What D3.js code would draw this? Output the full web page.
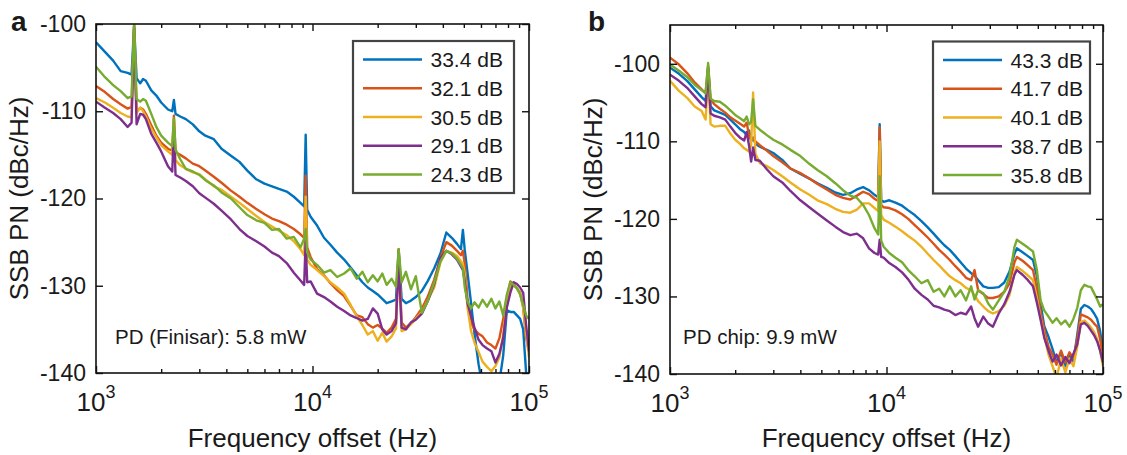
<!DOCTYPE html>
<html>
<head>
<meta charset="utf-8">
<script src="https://cdn.jsdelivr.net/npm/d3@7"></script>
<style>
  body { margin: 0; background: #fff; }
  text { font-family: Arial, "Liberation Sans", Helvetica, sans-serif; fill: #1a1a1a; }
</style>
</head>
<body>
<svg id="chart" width="1127" height="455"></svg>
<script>
// ---- panel a: PD (Finisar) ----
const freqA = [1000, 1100, 1200, 1300, 1400, 1460, 1500, 1540, 1600, 1650,
  1700, 1800, 1900, 2000, 2150, 2250, 2290, 2330, 2450, 2600,
  2800, 3000, 3200, 3500, 3800, 4200, 4600, 5000, 5500, 6000,
  6500, 7000, 7600, 8200, 8800, 9150, 9300, 9450, 9800, 10500,
  11300, 12100, 13000, 14000, 15000, 16000, 17000, 18000, 19000, 20000,
  21000, 22000, 23200, 24300, 25000, 25800, 27000, 28500, 30000, 32000,
  34000, 36500, 39000, 41500, 44000, 46500, 48500, 49500, 50500, 52000,
  54000, 56000, 58500, 61000, 64000, 67000, 70000, 73000, 76000, 79000,
  82000, 85000, 88000, 91000, 94000, 97000, 100000];

const a334 = [-102.1, -103.2, -104.2, -105.4, -105.6, -105.8, -100.2, -106.2, -106.8, -106.3,
  -106.5, -107.6, -108.2, -109.0, -109.8, -110.0, -108.7, -110.3, -110.6, -110.9,
  -111.5, -112.3, -112.8, -113.2, -114.3, -115.1, -115.8, -116.8, -117.8, -118.3,
  -118.6, -118.9, -119.2, -119.8, -120.5, -120.9, -112.7, -121.3, -122.1, -123.1,
  -124.5, -125.3, -126.2, -127.0, -127.9, -128.8, -129.6, -130.2, -130.6, -131.0,
  -131.5, -132.0, -131.8, -131.6, -125.9, -131.5, -132.0, -131.7, -131.3, -130.6,
  -129.5, -128.0, -126.3, -123.9, -124.5, -125.2, -125.8, -123.6, -125.9, -128.5,
  -132.0, -135.5, -139.0, -141.5, -142, -142, -142, -141, -138, -132.8,
  -133.0, -133.0, -133.4, -133.8, -135, -140, -142];

const a321 = [-107.1, -107.8, -108.6, -109.2, -109.7, -109.5, -100.2, -110.0, -109.6, -109.8,
  -110.3, -111.6, -112.8, -113.6, -114.3, -114.5, -110.5, -114.7, -115.0, -115.4,
  -116.0, -116.3, -116.8, -117.5, -118.2, -119.1, -119.8, -120.5, -121.2, -121.8,
  -122.3, -122.6, -123.0, -123.5, -124.1, -124.5, -117.4, -125.6, -126.7, -128.1,
  -128.8, -129.7, -130.5, -131.2, -132.3, -133.4, -133.6, -134.4, -134.8, -134.5,
  -134.9, -135.4, -134.8, -133.8, -125.8, -134.2, -134.8, -134.3, -133.6, -132.6,
  -131.3, -129.3, -126.8, -125.0, -125.4, -126.0, -126.5, -126.0, -127.5, -131.5,
  -134.2, -135.0, -135.5, -135.8, -136.5, -136.8, -137.2, -136.0, -133.8, -131.5,
  -129.5, -129.8, -130.3, -130.8, -132.5, -136.0, -137.5];

const a305 = [-108.5, -109.0, -109.6, -110.2, -110.6, -110.7, -100.2, -110.2, -109.6, -110.0,
  -110.6, -112.0, -113.0, -113.9, -114.6, -115.0, -111.0, -115.6, -116.2, -116.6,
  -117.0, -117.2, -117.8, -118.6, -119.0, -119.8, -120.5, -121.2, -122.0, -122.7,
  -123.2, -123.7, -124.2, -124.9, -125.8, -126.5, -119.8, -127.0, -127.6, -128.2,
  -128.9, -129.6, -130.2, -130.9, -132.2, -133.5, -134.5, -135.6, -135.2, -136.3,
  -135.4, -136.4, -135.8, -134.9, -126.4, -135.2, -135.0, -134.4, -133.8, -133.0,
  -131.7, -130.2, -127.3, -126.0, -126.2, -126.6, -127.2, -127.5, -128.6, -132.5,
  -135.2, -136.5, -137.6, -138.7, -139.3, -139.8, -139.2, -138.2, -135.6, -132.0,
  -129.8, -130.0, -130.3, -130.9, -132.5, -135.5, -138.2];

const a291 = [-108.9, -109.6, -110.2, -110.9, -111.8, -111.3, -100.5, -111.5, -110.3, -110.4,
  -110.9, -112.6, -113.6, -114.6, -116.3, -116.9, -112.0, -117.3, -117.6, -118.0,
  -118.6, -119.4, -119.9, -120.6, -121.4, -122.4, -123.5, -124.3, -124.9, -125.5,
  -126.2, -126.6, -127.4, -128.5, -129.4, -129.9, -124.8, -129.6, -129.5, -130.9,
  -131.3, -131.8, -132.4, -132.9, -133.4, -133.7, -134.0, -133.8, -132.6, -133.2,
  -135.0, -135.6, -135.2, -134.3, -127.2, -134.8, -135.0, -134.2, -133.9, -133.2,
  -131.8, -129.8, -126.8, -126.0, -126.4, -127.0, -127.8, -128.2, -129.5, -132.0,
  -133.5, -134.8, -136.2, -136.8, -137.2, -137.5, -138.8, -137.8, -136.0, -132.5,
  -130.8, -129.6, -129.8, -130.2, -130.8, -134.5, -137.5];

const a243 = [-104.9, -106.1, -107.0, -107.7, -108.5, -108.3, -100.0, -108.6, -108.9, -108.6,
  -108.8, -110.3, -111.8, -112.8, -113.6, -114.0, -110.8, -114.4, -115.5, -116.6,
  -116.9, -117.3, -117.9, -118.5, -119.3, -120.0, -121.0, -121.9, -122.5, -122.8,
  -123.6, -123.5, -124.6, -124.4, -125.6, -124.6, -123.5, -126.2, -127.0, -127.6,
  -128.5, -128.2, -129.0, -128.6, -128.0, -129.2, -128.4, -129.6, -128.8, -129.5,
  -128.6, -129.9, -129.2, -130.1, -125.8, -129.6, -128.4, -130.4, -128.9, -133.1,
  -131.8, -129.6, -127.2, -126.0, -126.3, -126.9, -127.6, -128.0, -130.2, -131.8,
  -132.6, -131.9, -132.5, -131.6, -132.4, -131.5, -132.6, -131.8, -133.4, -131.0,
  -129.6, -129.9, -130.3, -131.0, -132.2, -133.4, -133.8];

const labelsA = ["33.4 dB", "32.1 dB", "30.5 dB", "29.1 dB", "24.3 dB"];

// ---- panel b: PD chip ----
const freqB = [1000, 1100, 1200, 1300, 1400, 1460, 1500, 1540, 1600, 1700,
  1800, 1900, 2000, 2100, 2200, 2260, 2320, 2370, 2420, 2480,
  2600, 2800, 3000, 3300, 3600, 4000, 4400, 4800, 5300, 5800,
  6300, 6800, 7300, 7800, 8300, 8800, 9150, 9300, 9450, 9700,
  10300, 11000, 11800, 12600, 13500, 14500, 15500, 16500, 17500, 18500,
  19600, 20800, 22000, 23300, 24600, 25500, 26500, 28000, 29500, 31000,
  33000, 35000, 37000, 39000, 40000, 42500, 45000, 47500, 49500, 51500,
  53500, 56000, 58500, 61000, 64000, 67000, 70000, 73000, 76000, 79000,
  82000, 85000, 88000, 91000, 94000, 97000, 100000];

const b433 = [-100.5, -101.3, -102.2, -103.3, -104.3, -104.8, -100.5, -105.5, -106.0, -106.3,
  -106.6, -107.2, -107.8, -108.4, -108.8, -109.2, -108.6, -110.0, -109.5, -110.3,
  -110.7, -111.1, -111.5, -112.4, -113.5, -114.2, -114.8, -115.4, -116.0, -116.6,
  -116.9, -116.7, -116.2, -115.9, -116.3, -116.9, -117.2, -107.8, -117.6, -117.8,
  -117.6, -117.9, -118.3, -118.9, -119.5, -120.3, -121.1, -121.9, -122.7, -123.4,
  -124.0, -124.8, -125.6, -126.4, -127.0, -127.3, -127.9, -128.7, -128.9, -128.9,
  -128.8, -128.2, -126.8, -124.5, -123.8, -124.3, -124.8, -125.3, -127.4, -131.0,
  -133.8, -135.2, -136.8, -138.5, -137.2, -139.0, -137.6, -138.4, -135.0, -131.6,
  -131.1, -131.3, -131.6, -132.2, -132.9, -134.5, -137.0];

const b417 = [-99.2, -100.1, -101.2, -102.4, -103.3, -103.8, -100.3, -104.6, -105.2, -105.8,
  -106.3, -106.9, -107.3, -107.7, -108.1, -107.6, -109.3, -109.8, -109.6, -110.0,
  -110.5, -111.2, -111.9, -112.7, -113.5, -114.1, -114.8, -115.5, -116.2, -116.9,
  -117.3, -117.5, -117.0, -116.5, -116.8, -117.4, -117.7, -108.2, -118.2, -118.5,
  -118.6, -118.9, -119.4, -120.0, -120.8, -121.6, -122.4, -123.2, -124.0, -124.6,
  -125.3, -126.1, -126.8, -127.6, -127.9, -126.6, -129.2, -129.7, -130.2, -130.2,
  -130.0, -129.4, -128.3, -125.6, -124.9, -125.4, -126.0, -126.6, -129.0, -132.0,
  -134.2, -136.5, -137.5, -138.8, -137.0, -138.5, -137.2, -138.0, -135.5, -132.3,
  -132.5, -132.7, -133.0, -133.5, -133.9, -135.5, -138.0];

const b401 = [-102.2, -103.5, -104.4, -105.5, -106.1, -107.2, -101.8, -107.8, -108.1, -108.0,
  -108.0, -109.0, -109.8, -110.3, -110.9, -111.1, -111.3, -110.5, -103.7, -111.6,
  -112.8, -113.2, -113.7, -114.5, -115.3, -116.2, -116.9, -117.6, -118.1, -118.7,
  -119.1, -119.2, -118.8, -118.0, -118.0, -118.6, -119.0, -110.0, -119.5, -120.1,
  -120.5, -121.0, -121.6, -122.2, -122.8, -123.6, -124.5, -125.3, -126.0, -126.7,
  -127.4, -127.9, -128.3, -128.9, -129.2, -129.8, -130.6, -131.3, -131.9, -132.2,
  -131.9, -131.2, -129.8, -127.0, -126.2, -126.7, -127.3, -127.9, -130.2, -132.8,
  -135.0, -137.5, -139.0, -140.5, -138.0, -139.8, -138.0, -139.0, -136.5, -133.3,
  -133.1, -133.5, -134.0, -134.6, -135.5, -137.0, -139.0];

const b387 = [-101.4, -102.2, -103.1, -104.2, -105.2, -105.6, -100.8, -106.4, -106.7, -106.9,
  -107.2, -108.1, -108.9, -109.5, -109.9, -108.8, -110.6, -112.6, -110.8, -112.4,
  -112.5, -113.6, -114.5, -115.3, -116.4, -117.6, -118.5, -119.3, -120.2, -121.0,
  -121.7, -122.1, -121.9, -122.5, -123.8, -124.4, -124.6, -122.7, -124.9, -125.0,
  -125.7, -126.2, -126.9, -127.8, -129.0, -129.8, -130.4, -131.2, -131.4, -131.7,
  -131.9, -132.4, -132.1, -132.3, -131.3, -132.8, -133.9, -132.6, -133.5, -133.9,
  -132.2, -131.0, -129.4, -127.2, -126.6, -127.2, -127.9, -128.7, -130.8, -133.0,
  -135.3, -137.0, -138.4, -137.5, -138.9, -137.8, -138.6, -137.4, -136.2, -133.6,
  -133.4, -133.8, -134.4, -135.0, -135.8, -137.0, -138.5];

const b358 = [-100.1, -100.9, -101.7, -102.7, -103.4, -103.8, -99.9, -104.5, -104.8, -104.9,
  -105.4, -106.0, -106.6, -107.0, -107.4, -106.8, -107.8, -107.5, -104.6, -108.0,
  -108.5, -109.2, -109.8, -110.4, -111.1, -111.9, -112.9, -113.7, -114.5, -115.4,
  -116.3, -117.0, -117.3, -118.2, -119.5, -121.2, -122.0, -114.5, -122.8, -123.6,
  -124.4, -125.0, -125.6, -126.6, -127.4, -128.3, -127.9, -129.4, -129.0, -130.0,
  -128.7, -130.0, -129.2, -130.5, -128.7, -130.4, -129.2, -129.6, -130.9, -131.7,
  -130.5, -129.4, -127.4, -123.6, -122.7, -123.2, -123.7, -124.2, -126.6, -130.5,
  -131.8, -132.6, -133.4, -132.8, -133.6, -133.1, -133.9, -132.9, -131.5, -129.2,
  -128.5, -128.7, -128.8, -129.6, -130.4, -131.3, -131.0];

const labelsB = ["43.3 dB", "41.7 dB", "40.1 dB", "38.7 dB", "35.8 dB"];

const colors = ["#0072BD", "#D95319", "#EDB120", "#7E2F8E", "#77AC30"];
const yTicks = [-140, -130, -120, -110, -100];
const xMajor = [1e3, 1e4, 1e5];
const xMinor = [2e3, 3e3, 4e3, 5e3, 6e3, 7e3, 8e3, 9e3, 2e4, 3e4, 4e4, 5e4, 6e4, 7e4, 8e4, 9e4];

const svg = d3.select("#chart");
const FONT = 'Arial, "Liberation Sans", Helvetica, sans-serif';

function drawPanel(p) {
    const x = d3.scaleLog().domain([1e3, 1e5]).range([p.left, p.right]);
    const y = d3.scaleLinear().domain(p.yDomain).range([p.bottom, p.top]);
    const g = svg.append("g");

    g.append("clipPath").attr("id", "clip-" + p.letter)
        .append("rect")
        .attr("x", p.left).attr("y", p.top)
        .attr("width", p.right - p.left).attr("height", p.bottom - p.top);

    const line = d3.line().x(d => x(d[0])).y(d => y(d[1]));
    g.append("g").attr("clip-path", `url(#clip-${p.letter})`)
        .selectAll("path")
        .data(p.series)
        .join("path")
        .attr("d", s => line(p.freq.map((f, i) => [f, s[i]])))
        .attr("fill", "none")
        .attr("stroke", (s, i) => colors[i])
        .attr("stroke-width", 2.4)
        .attr("stroke-linejoin", "round");

    // ticks (all pointing inward)
    const axes = [
        [d3.axisBottom(x).tickValues(xMajor).tickSize(-7), `translate(0,${p.bottom})`],
        [d3.axisBottom(x).tickValues(xMinor).tickSize(-4), `translate(0,${p.bottom})`],
        [d3.axisTop(x).tickValues(xMajor).tickSize(-7), `translate(0,${p.top})`],
        [d3.axisTop(x).tickValues(xMinor).tickSize(-4), `translate(0,${p.top})`],
        [d3.axisRight(y).tickValues(yTicks).tickSize(-7), `translate(${p.right},0)`]
    ];
    axes.forEach(([ax, tr]) => {
        const a = g.append("g").attr("transform", tr).call(ax.tickFormat(""));
        a.select(".domain").remove();
        a.selectAll("line").attr("stroke", "#111").attr("stroke-width", 1.4);
    });

    const yAxis = g.append("g")
        .attr("transform", `translate(${p.left},0)`)
        .call(d3.axisLeft(y).tickValues(yTicks).tickSize(-7).tickPadding(10).tickFormat(d => String(d)));
    yAxis.select(".domain").remove();
    yAxis.selectAll("line").attr("stroke", "#111").attr("stroke-width", 1.4);
    yAxis.selectAll("text").attr("font-size", 23).attr("font-family", FONT).style("fill", "#1a1a1a");

    // x tick labels as 10^n
    xMajor.forEach(v => {
        const t = g.append("text")
            .attr("x", x(v)).attr("y", p.bottom + 38)
            .attr("text-anchor", "middle")
            .attr("font-size", 26);
        t.append("tspan").text("10");
        t.append("tspan").attr("dy", -13).attr("font-size", 18).text(Math.round(Math.log10(v)));
    });

    // frame
    g.append("rect")
        .attr("x", p.left).attr("y", p.top)
        .attr("width", p.right - p.left).attr("height", p.bottom - p.top)
        .attr("fill", "none").attr("stroke", "#111").attr("stroke-width", 1.6);

    // legend
    const lg = g.append("g");
    lg.append("rect")
        .attr("x", p.legend.x).attr("y", p.legend.y)
        .attr("width", p.legend.w).attr("height", p.legend.h)
        .attr("fill", "#fff").attr("stroke", "#444").attr("stroke-width", 2.2);
    p.labels.forEach((lab, i) => {
        const ly = p.legend.y + 18.5 + i * 28.75;
        lg.append("line")
            .attr("x1", p.legend.x + 10).attr("x2", p.legend.x + 69)
            .attr("y1", ly).attr("y2", ly)
            .attr("stroke", colors[i]).attr("stroke-width", 2.6);
        lg.append("text")
            .attr("x", p.legend.x + 77.5).attr("y", ly)
            .attr("dy", "0.36em")
            .attr("font-size", 21)
            .text(lab);
    });

    // note
    g.append("text")
        .attr("x", p.left + p.noteDx).attr("y", 344)
        .attr("font-size", 20.5)
        .text(p.note);

    // axis labels
    g.append("text")
        .attr("x", (p.left + p.right) / 2).attr("y", 447)
        .attr("text-anchor", "middle")
        .attr("font-size", 26)
        .text("Frequency offset (Hz)");
    g.append("text")
        .attr("transform", `translate(${p.left - 68},${(p.top + p.bottom) / 2}) rotate(-90)`)
        .attr("text-anchor", "middle")
        .attr("font-size", 26)
        .text("SSB PN (dBc/Hz)");

    // panel letter
    g.append("text")
        .attr("x", p.letterX).attr("y", 31)
        .attr("font-size", 28)
        .attr("font-weight", "bold")
        .text(p.letter);
}

drawPanel({
    letter: "a", letterX: 11,
    left: 96, right: 529, top: 24, bottom: 373,
    yDomain: [-140, -100],
    freq: freqA,
    series: [a334, a321, a305, a291, a243],
    labels: labelsA,
    legend: { x: 353, y: 41, w: 161, h: 152 },
    note: "PD (Finisar): 5.8 mW", noteDx: 19
});

drawPanel({
    letter: "b", letterX: 588,
    left: 670, right: 1103, top: 25, bottom: 374,
    yDomain: [-140, -95],
    freq: freqB,
    series: [b433, b417, b401, b387, b358],
    labels: labelsB,
    legend: { x: 933, y: 41.5, w: 157, h: 152 },
    note: "PD chip: 9.9 mW", noteDx: 13
});
</script>
</body>
</html>
